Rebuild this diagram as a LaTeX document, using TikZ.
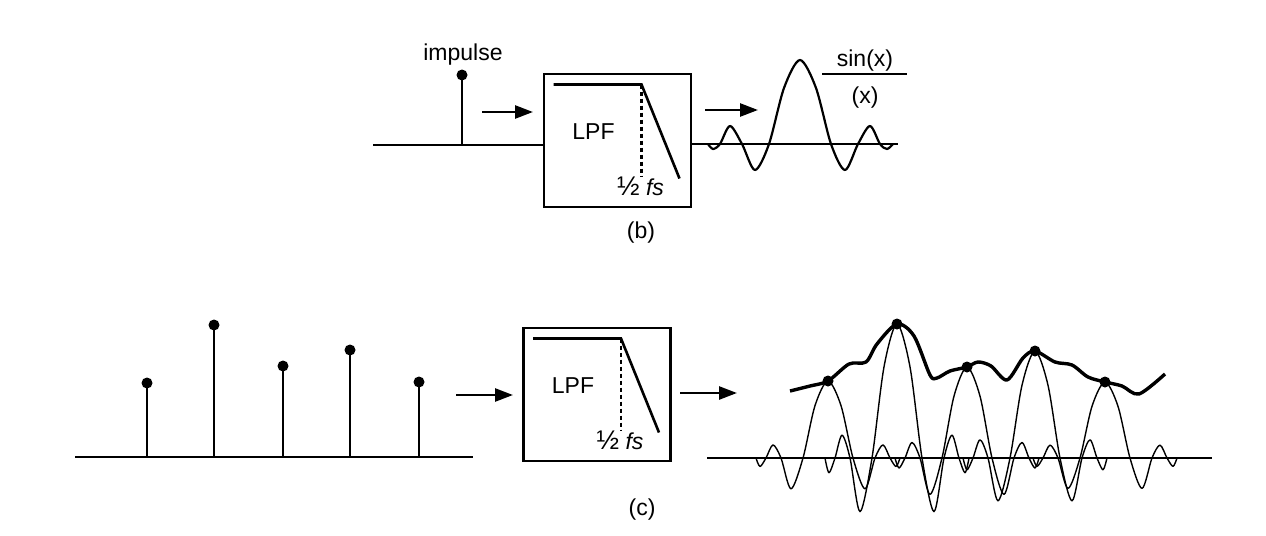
\documentclass[tikz,border=0pt]{standalone}
\usepackage{fontspec}
\setmainfont{Liberation Sans}
\usetikzlibrary{arrows.meta,positioning}

\begin{document}
\begin{tikzpicture}[
    x=0.5pt, y=-0.5pt,
    >={Triangle[length=9pt,width=6.5pt]},
    line width=1.3pt,
    filterbox/.style={draw, line width=1.2pt, minimum width=73.5pt, minimum height=66.5pt, inner sep=0pt},
    lbl/.style={font=\fontsize{11.5}{13}\selectfont, inner sep=0pt},
    dot/.style={circle, fill=black, inner sep=0pt, minimum size=5.5pt},
    cutoff/.style={line width=1.2pt, dash pattern=on 2pt off 1.5pt},
    wave/.style={line width=1.1pt, line join=round},
    thinwave/.style={line width=0.7pt, line join=round},
    envelope/.style={line width=1.7pt, line join=round}
]
    \useasboundingbox (0,0) rectangle (1266,536);

    % (b)
    \node[filterbox] (lpfb) at (617.5,140.5) {};
    \node[filterbox] (lpfc) at (597,394.5) {};
    \foreach \b in {lpfb,lpfc} {
        \draw ([shift={(-64,-56)}]\b.center) -- ([shift={(24,-56)}]\b.center) -- ([shift={(62,38)}]\b.center);
        \draw[cutoff] ([shift={(24,-56)}]\b.center) -- ([shift={(24,36)}]\b.center);
        \node[lbl] (\b txt) at ([shift={(-24,-9)}]\b.center) {LPF};
        \node[lbl] (\b fs) at ([shift={(23,46)}]\b.center) {{\fontsize{13.5}{13}\selectfont ½} \textit{fs}};
    }

    \coordinate (inb) at (373,145);
    \coordinate (outb) at (898,144);
    \draw (inb) -- (inb -| lpfb.west);
    \draw (lpfb.east |- outb) -- (outb);

    \node[dot] (imp) at (462,75) {};
    \draw (imp.center) -- (462,145);
    \node[lbl] (implbl) at (463,55) {impulse};

    \coordinate (ab1) at (482,112);
    \coordinate (ab2) at (533,112);
    \coordinate (ab3) at (705,110);
    \coordinate (ab4) at (758,110);
    \draw[->] (ab1) -- (ab2);
    \draw[->] (ab3) -- (ab4);

    \draw[wave] plot[smooth] coordinates {(708,144) (713,149) (720,144) (730,126) (742,144) (755,170) (769,144) (784,88) (800,60)
        (816,88) (831,144) (845,170) (858,144) (870,126) (880,144) (887,149) (893,144)};

    \node[lbl] (num) at (865,61) {sin(x)};
    \node[lbl] (den) at (865,98) {(x)};
    \draw[line width=1.1pt] (822,74) -- (907,74);

    \node[lbl] (capb) at (641,233) {(b)};

    % (c)
    \coordinate (inc) at (75,457);
    \coordinate (endc) at (473,457);
    \draw (inc) -- (endc);
    \foreach \x/\h [count=\i] in {147/74, 214/132, 283/91, 350/107, 419/75} {
        \node[dot] (s\i) at (\x,{457-\h}) {};
        \draw (s\i.center) -- (\x,457);
    }

    \coordinate (ac1) at (456,395);
    \coordinate (ac2) at (513,395);
    \coordinate (ac3) at (680,393);
    \coordinate (ac4) at (737,393);
    \draw[->] (ac1) -- (ac2);
    \draw[->] (ac3) -- (ac4);

    \coordinate (outc0) at (707,458);
    \coordinate (outc1) at (1212,458);
    \draw (outc0) -- (outc1);

    \foreach \c/\h in {828/77, 897/134, 967/91, 1035/107, 1105/76}
        \draw[thinwave] plot[smooth] coordinates {({\c-72},458) ({\c-68},{458+0.11*\h}) ({\c-62},458) ({\c-55},{458-0.17*\h})
            ({\c-47},458) ({\c-37},{458+0.4*\h}) ({\c-25},458) ({\c-13},{458-0.68*\h}) (\c,{458-\h})
            ({\c+13},{458-0.68*\h}) ({\c+25},458) ({\c+37},{458+0.4*\h}) ({\c+47},458) ({\c+55},{458-0.17*\h})
            ({\c+62},458) ({\c+68},{458+0.11*\h}) ({\c+72},458)};

    \draw[envelope] plot[smooth] coordinates {(790,391) (810,386) (828,381) (849,364) (866,362) (877,344) (897,324) (914,336)
        (930,375) (937,378) (950,371) (967,367) (978,362) (991,366) (1007,380) (1023,358) (1035,351) (1055,362) (1072,365)
        (1088,377) (1105,382) (1122,386) (1139,394) (1165,374)};

    \foreach \x/\y [count=\i] in {828/381, 897/324, 967/367, 1035/351, 1105/382}
        \node[dot] (e\i) at (\x,\y) {};

    \node[lbl] (capc) at (642,510) {(c)};
\end{tikzpicture}
\end{document}
